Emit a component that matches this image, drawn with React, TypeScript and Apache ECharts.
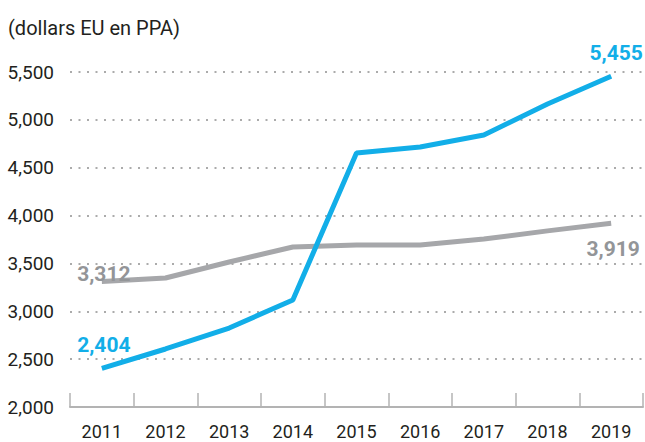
import React, { useEffect, useRef } from "react";
import * as echarts from "echarts";

const years = ["2011", "2012", "2013", "2014", "2015", "2016", "2017", "2018", "2019"];
const blueValues = [2404, 2606, 2825, 3118, 4654, 4717, 4842, 5166, 5455];
const grayValues = [3312, 3348, 3515, 3672, 3693, 3693, 3755, 3840, 3919];
const unitLabel = "(dollars EU en PPA)";

const FONT = "Roboto, 'Noto Sans', sans-serif";
const BLUE = "#12aee8";
const GRAY = "#a6a7aa";

const fmt = (v: number) => v.toLocaleString("en-US");

export default function App() {
  const ref = useRef<HTMLDivElement>(null);
  useEffect(() => {
    if (!ref.current) return;
    const chart = echarts.init(ref.current, null, { renderer: "svg" });
    const lastIdx = years.length - 1;
    const blueData = blueValues.map((v, i) => {
      if (i === 0)
        return { value: v, label: { show: true, position: "top", distance: 13, offset: [2, 0] } };
      if (i === lastIdx)
        return { value: v, label: { show: true, position: "top", distance: 13, offset: [5, 0] } };
      return { value: v, label: { show: false } };
    });
    const grayData = grayValues.map((v, i) => {
      if (i === 0)
        return { value: v, label: { show: true, position: "top", distance: -3, offset: [2, 0] } };
      if (i === lastIdx)
        return { value: v, label: { show: true, position: "bottom", distance: 15, offset: [2, 0] } };
      return { value: v, label: { show: false } };
    });
    const labelBase = {
      fontFamily: FONT,
      fontSize: 21,
      fontWeight: "bold",
      formatter: (p: any) => fmt(p.value),
    };
    chart.setOption({
      animation: false,
      grid: { left: 70, right: 2, top: 72, bottom: 35 },
      graphic: [
        {
          type: "text",
          left: 8,
          top: 18,
          style: { text: unitLabel, font: `20px ${FONT}`, fill: "#231f20" },
        },
      ],
      xAxis: {
        type: "category",
        data: years,
        boundaryGap: true,
        axisLine: { show: true, lineStyle: { color: "#b3b3b3", width: 2 } },
        axisTick: { show: true, inside: true, length: 14, lineStyle: { color: "#b3b3b3", width: 1.5 } },
        axisLabel: { color: "#231f20", fontFamily: FONT, fontSize: 18, margin: 15 },
      },
      yAxis: {
        type: "value",
        min: 2000,
        max: 5500,
        interval: 500,
        axisLine: { show: false },
        axisTick: { show: false },
        axisLabel: {
          color: "#231f20",
          fontFamily: FONT,
          fontSize: 19,
          margin: 16,
          formatter: (v: number) => fmt(v),
        },
        splitLine: {
          show: true,
          lineStyle: { color: "#ababab", width: 2, type: [2, 6.5] },
        },
      },
      series: [
        {
          type: "line",
          data: grayData,
          symbol: "circle",
          symbolSize: 0,
          showSymbol: true,
          lineStyle: { color: GRAY, width: 5 },
          itemStyle: { color: GRAY },
          label: { ...labelBase, color: "#939598" },
          z: 2,
        },
        {
          type: "line",
          data: blueData,
          symbol: "circle",
          symbolSize: 0,
          showSymbol: true,
          lineStyle: { color: BLUE, width: 5 },
          itemStyle: { color: BLUE },
          label: { ...labelBase, color: BLUE },
          z: 3,
        },
      ],
    });
    return () => chart.dispose();
  }, []);
  return <div ref={ref} style={{ width: 645, height: 442, position: "absolute", left: 0, top: 0 }} />;
}
